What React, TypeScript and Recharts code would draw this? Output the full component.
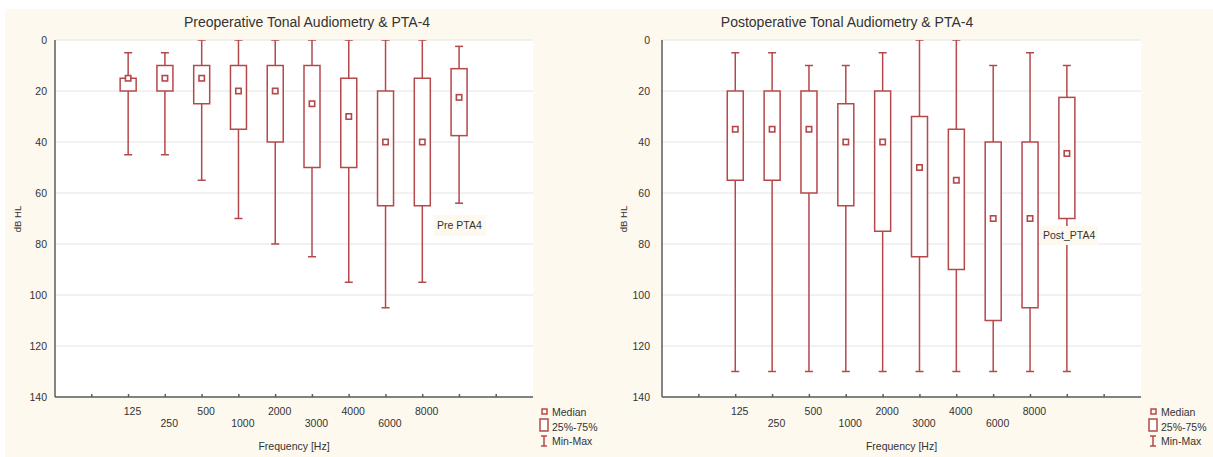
import React from 'react';
import { ComposedChart, Bar, XAxis, YAxis, CartesianGrid } from 'recharts';

// frequencies in slot order, PTA-4 is the last (unlabelled) box
const freqLabels = ['125', '250', '500', '1000', '2000', '3000', '4000', '6000', '8000', 'PTA4'];
const slotPos = [2, 3, 4, 5, 6, 7, 8, 9, 10, 11];
const slotTicks = [1, 2, 3, 4, 5, 6, 7, 8, 9, 10, 11, 12];
const yTicks = [0, 20, 40, 60, 80, 100, 120, 140];

// preoperative (dB HL)
const preMin = [5, 5, 0, 0, 0, 0, 0, 0, 0, 2.5];
const preQ1 = [15, 10, 10, 10, 10, 10, 15, 20, 15, 11.25];
const preMedian = [15, 15, 15, 20, 20, 25, 30, 40, 40, 22.5];
const preQ3 = [20, 20, 25, 35, 40, 50, 50, 65, 65, 37.5];
const preMax = [45, 45, 55, 70, 80, 85, 95, 105, 95, 64];

// postoperative (dB HL)
const postMin = [5, 5, 10, 10, 5, 0, 0, 10, 5, 10];
const postQ1 = [20, 20, 20, 25, 20, 30, 35, 40, 40, 22.5];
const postMedian = [35, 35, 35, 40, 40, 50, 55, 70, 70, 44.5];
const postQ3 = [55, 55, 60, 65, 75, 85, 90, 110, 105, 70];
const postMax = [130, 130, 130, 130, 130, 130, 130, 130, 130, 130];

const RED = '#b5484b';
const FRAME = '#5c5c5c';
const TXT = '#333333';
const CREAM = '#fdf9ef';
const FONT = '"Liberation Sans", Arial, sans-serif';

type Row = { pos: number; label: string; range: [number, number]; q1: number; med: number; q3: number };

function buildRows(mn: number[], q1: number[], md: number[], q3: number[], mx: number[]): Row[] {
  return freqLabels.map((label, i) => ({
    pos: slotPos[i],
    label,
    range: [mn[i], mx[i]],
    q1: q1[i],
    med: md[i],
    q3: q3[i],
  }));
}

const preRows = buildRows(preMin, preQ1, preMedian, preQ3, preMax);
const postRows = buildRows(postMin, postQ1, postMedian, postQ3, postMax);

// bar spans min..max; the rest of the box is placed on the same scale
function BoxShape(props: any) {
  const { x, y, width, height, payload } = props;
  if (!payload) return null;
  const [lo, hi] = payload.range;
  const top = Math.min(y, y + height);
  const bot = Math.max(y, y + height);
  const py = (v: number) => top + ((v - lo) / (hi - lo)) * (bot - top);
  const cx = x + width / 2;
  const cap = 4;
  const m = 2.7;
  const yq1 = py(payload.q1);
  const yq3 = py(payload.q3);
  const ym = py(payload.med);
  return (
    <g stroke={RED} strokeWidth={1.5} fill="none">
      <line x1={cx} y1={top} x2={cx} y2={yq1} />
      <line x1={cx} y1={yq3} x2={cx} y2={bot} />
      <line x1={cx - cap} y1={top} x2={cx + cap} y2={top} />
      <line x1={cx - cap} y1={bot} x2={cx + cap} y2={bot} />
      <rect x={cx - width / 2} y={yq1} width={width} height={yq3 - yq1} fill="#fff" />
      <rect x={cx - m} y={ym - m} width={2 * m} height={2 * m} fill="#fff" strokeWidth={1.6} />
    </g>
  );
}

function FreqTick(props: any) {
  const { x, y, payload } = props;
  const i = slotPos.indexOf(payload.value);
  const text = i >= 0 && i < 9 ? freqLabels[i] : '';
  return (
    <g>
      <line x1={x} y1={y} x2={x} y2={y - 3} stroke={FRAME} strokeWidth={1.5} />
      {text && (
        <text x={x + 4} y={y + (i % 2 ? 26 : 14)} textAnchor="middle" dominantBaseline="central"
          fontSize={10.5} fill={TXT} fontFamily={FONT}>{text}</text>
      )}
    </g>
  );
}

function TopTick(props: any) {
  const { x, y } = props;
  return <line x1={x} y1={y} x2={x} y2={y + 3} stroke={FRAME} strokeWidth={1.5} />;
}

function RightTick(props: any) {
  const { x, y } = props;
  return <line x1={x} y1={y} x2={x - 3} y2={y} stroke={FRAME} strokeWidth={1.5} />;
}

function Abs({ x, y, children, style }: { x: number; y: number; children: React.ReactNode; style?: React.CSSProperties }) {
  return (
    <div style={{ position: 'absolute', left: x, top: y, transform: 'translate(-50%, -50%)', whiteSpace: 'nowrap', fontFamily: FONT, color: TXT, ...style }}>
      {children}
    </div>
  );
}

function BoxLegend({ x, y }: { x: number; y: number }) {
  return (
    <div style={{ position: 'absolute', left: x, top: y, width: 72, height: 48 }}>
      <svg width={72} height={48} style={{ position: 'absolute', left: 0, top: 0 }}>
        <rect x={4} y={3} width={5} height={5} fill="none" stroke={RED} strokeWidth={1.5} />
        <rect x={2} y={13} width={8} height={12} fill="#fff" stroke={RED} strokeWidth={1.5} />
        <line x1={6} y1={30} x2={6} y2={40} stroke={RED} strokeWidth={1.5} />
        <line x1={3} y1={30} x2={9} y2={30} stroke={RED} strokeWidth={1.5} />
        <line x1={3} y1={40} x2={9} y2={40} stroke={RED} strokeWidth={1.5} />
        <g fontSize={10.5} fill={TXT} fontFamily={FONT} dominantBaseline="central">
          <text x={14} y={6}>Median</text>
          <text x={14} y={21}>25%-75%</text>
          <text x={14} y={35}>Min-Max</text>
        </g>
      </svg>
    </div>
  );
}

function BoxChart({ rows, width, yAxisWidth, rightMargin, labelGap }: { rows: Row[]; width: number; yAxisWidth: number; rightMargin: number; labelGap: number }) {
  return (
    <ComposedChart width={width} height={448} data={rows} margin={{ top: 31, right: rightMargin, bottom: 0, left: 0 }}>
      <CartesianGrid vertical={false} stroke="#e4e4e4" fill="#ffffff" />
      <XAxis dataKey="pos" type="number" domain={[0, 13]} ticks={slotTicks} interval={0} allowDataOverflow
        height={60} tickSize={0} tickMargin={0} tickLine={false} tick={<FreqTick />}
        axisLine={{ stroke: FRAME, strokeWidth: 1.5 }}
        label={{ value: 'Frequency [Hz]', position: 'insideBottom', offset: 7, fontSize: 10.5, fill: TXT, fontFamily: FONT }} />
      <XAxis xAxisId="top" orientation="top" type="number" domain={[0, 13]} ticks={slotTicks} interval={0} allowDataOverflow
        height={0} tickSize={0} tickMargin={0} tickLine={false} tick={<TopTick />}
        axisLine={{ stroke: FRAME, strokeWidth: 1.5 }} />
      <YAxis type="number" domain={[0, 140]} reversed ticks={yTicks} interval={0} allowDataOverflow width={yAxisWidth}
        tickSize={0} tickMargin={labelGap} tickLine={false}
        tick={{ fontSize: 10.5, fill: TXT, fontFamily: FONT }}
        axisLine={{ stroke: FRAME, strokeWidth: 1.5 }} />
      <YAxis yAxisId="r" orientation="right" type="number" domain={[0, 140]} reversed ticks={yTicks} interval={0} allowDataOverflow
        width={0} tickSize={0} tickMargin={0} tickLine={false} tick={<RightTick />}
        axisLine={{ stroke: FRAME, strokeWidth: 1.5 }} />
      <Bar dataKey="range" barSize={16} shape={BoxShape} isAnimationActive={false} />
    </ComposedChart>
  );
}

export default function App() {
  return (
    <div style={{ position: 'absolute', left: 0, top: 0, width: 1213, height: 457, background: '#fff', overflow: 'hidden' }}>
      <div style={{ position: 'absolute', left: 5, top: 9, width: 1208, height: 448, background: CREAM }} />

      <div style={{ position: 'absolute', left: 5, top: 9 }}>
        <BoxChart rows={preRows} width={603} yAxisWidth={50} rightMargin={75} labelGap={8} />
      </div>
      <div style={{ position: 'absolute', left: 608, top: 9 }}>
        <BoxChart rows={postRows} width={605} yAxisWidth={54} rightMargin={72} labelGap={12} />
      </div>

      <Abs x={307} y={22} style={{ fontSize: 14 }}>Preoperative Tonal Audiometry &amp; PTA-4</Abs>
      <Abs x={847} y={22} style={{ fontSize: 14 }}>Postoperative Tonal Audiometry &amp; PTA-4</Abs>

      <Abs x={17} y={219} style={{ fontSize: 9.5, transform: 'translate(-50%, -50%) rotate(-90deg)' }}>dB HL</Abs>
      <Abs x={623} y={219} style={{ fontSize: 9.5, transform: 'translate(-50%, -50%) rotate(-90deg)' }}>dB HL</Abs>

      <div style={{ position: 'absolute', left: 434, top: 215, width: 52, height: 21, background: CREAM, fontFamily: FONT, fontSize: 10.5, color: TXT, lineHeight: '21px', paddingLeft: 3, boxSizing: 'border-box' }}>Pre PTA4</div>
      <div style={{ position: 'absolute', left: 1040, top: 226, width: 58, height: 19, background: CREAM, fontFamily: FONT, fontSize: 10.5, color: TXT, lineHeight: '19px', paddingLeft: 3, boxSizing: 'border-box' }}>Post_PTA4</div>

      <BoxLegend x={538} y={406} />
      <BoxLegend x={1147} y={406} />
    </div>
  );
}
